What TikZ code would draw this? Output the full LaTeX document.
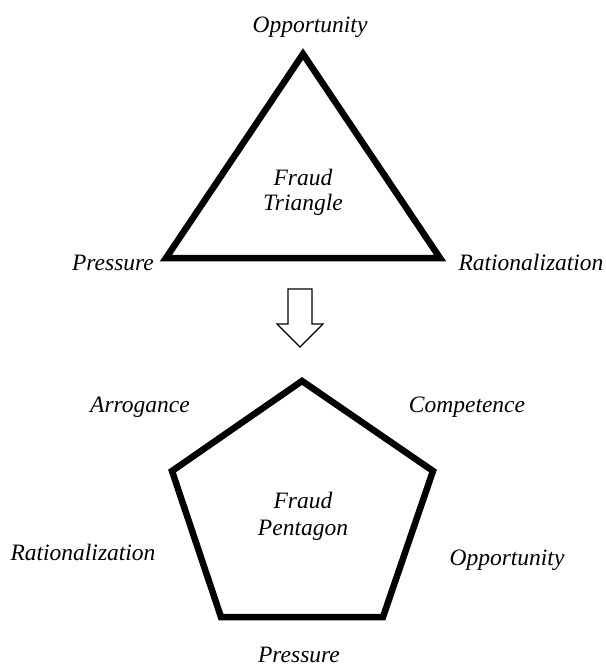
\documentclass[tikz,border=0pt]{standalone}
\usepackage{fontspec}
\setmainfont{Liberation Serif}
\usepackage{tikz}
\usetikzlibrary{positioning}
\tikzstyle{lbl} = [font=\fontsize{23.5}{27}\selectfont\itshape, inner sep=0pt, anchor=base]
\tikzstyle{shape line} = [draw, line width=6.5pt, line join=miter]
\tikzstyle{arrow line} = [draw, line width=1.2pt, line join=miter, fill=white]

\begin{document}
\begin{tikzpicture}[x=1pt, y=-1pt]
				\useasboundingbox (0,0) rectangle (605,666);
				% fraud triangle
				\coordinate (t top) at (303, 54);
				\coordinate (t left) at (166, 258);
				\coordinate (t right) at (440, 258);
				\path [shape line] (t top) -- (t left) -- (t right) -- cycle;
				\node [lbl] (t opp) at (310, 33) {Opportunity};
				\node [lbl] (t pres) at (113, 270) {Pressure};
				\node [lbl] (t rat) at (531, 270) {Rationalization};
				\node [lbl] (t fraud) at (303, 185) {Fraud};
				\node [lbl] (t name) at (303, 210) {Triangle};

				% down arrow
				\coordinate (a1) at (288, 289);
				\coordinate (a2) at (312, 289);
				\coordinate (a3) at (312, 324);
				\coordinate (a4) at (323, 324);
				\coordinate (tip) at (300, 347);
				\coordinate (a5) at (277, 324);
				\coordinate (a6) at (288, 324);
				\path [arrow line] (a1) -- (a2) -- (a3) -- (a4) -- (tip) -- (a5) -- (a6) -- cycle;

				% fraud pentagon
				\coordinate (p top) at (302, 381);
				\coordinate (p ul) at (172, 471);
				\coordinate (p ur) at (433, 471);
				\coordinate (p ll) at (221, 617);
				\coordinate (p lr) at (383, 617);
				\path [shape line] (p top) -- (p ur) -- (p lr) -- (p ll) -- (p ul) -- cycle;
				\node [lbl] (p arr) at (140, 412) {Arrogance};
				\node [lbl] (p comp) at (467, 412) {Competence};
				\node [lbl] (p rat) at (83, 560) {Rationalization};
				\node [lbl] (p opp) at (507, 565) {Opportunity};
				\node [lbl] (p pres) at (299, 662) {Pressure};
				\node [lbl] (p fraud) at (303, 508) {Fraud};
				\node [lbl] (p name) at (303, 535) {Pentagon};
			\end{tikzpicture}
\end{document}
